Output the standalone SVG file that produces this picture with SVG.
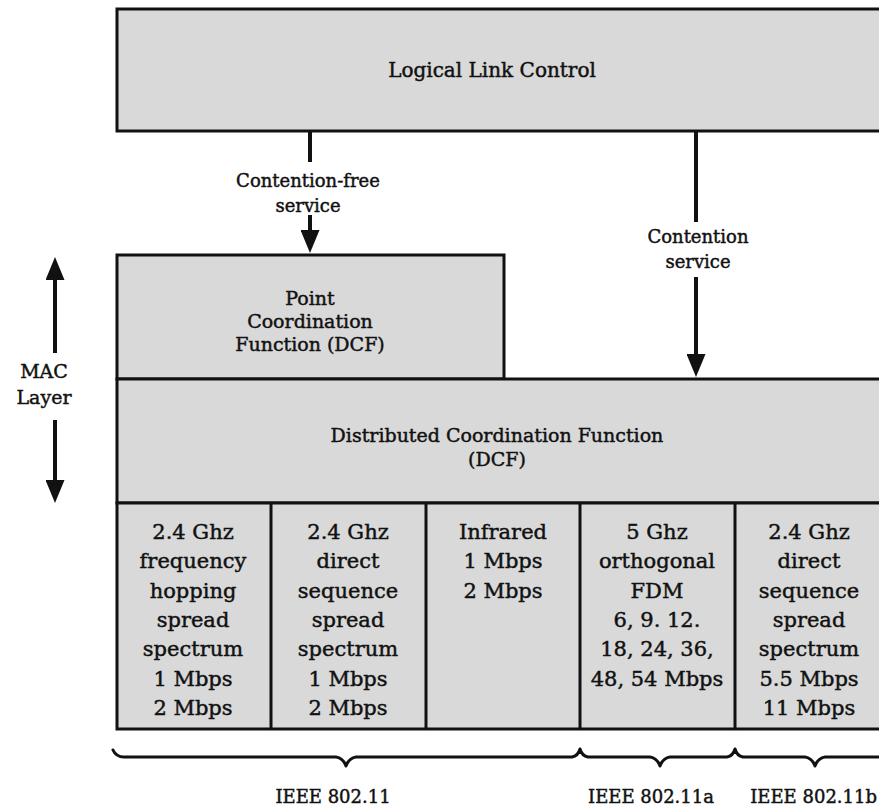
<svg xmlns="http://www.w3.org/2000/svg" width="879" height="807" viewBox="0 0 879 807">
  <style>
    .box { fill: #d9d9d9; stroke: #111; stroke-width: 3; }
    .div { stroke: #111; stroke-width: 3; fill: none; }
    .wire { stroke: #111; stroke-width: 4; fill: none; }
    .brace { stroke: #111; stroke-width: 3; fill: none; stroke-linejoin: round; stroke-linecap: round; }
    text { font-family: "DejaVu Serif", "Liberation Serif", serif; fill: #111; stroke: #111; stroke-width: 0.45; text-anchor: middle; }
    .t20 { font-size: 20px; }
    .t19 { font-size: 19px; }
    .t18 { font-size: 18px; }
    .cell { font-size: 21px; }
  </style>
  <defs>
    <!-- filled arrowhead, tip 10px beyond the line end so the shaft stays hidden -->
    <marker id="head" viewBox="0 0 23 19" refX="13" refY="9.5" markerWidth="23" markerHeight="19" markerUnits="userSpaceOnUse" orient="auto-start-reverse">
      <path d="M0,0 L23,9.5 L0,19 Z" fill="#111"/>
    </marker>
  </defs>
  <rect width="879" height="807" fill="#fff"/>

  <g id="llc">
    <rect class="box" x="117" y="9" width="770" height="122"/>
    <text class="t20" x="492" y="77">Logical Link Control</text>
  </g>

  <g id="pcf">
    <rect class="box" x="117" y="255" width="387" height="124"/>
    <text class="t19" x="310" y="305">Point</text>
    <text class="t19" x="310" y="328">Coordination</text>
    <text class="t19" x="310" y="351">Function (DCF)</text>
  </g>

  <g id="dcf">
    <rect class="box" x="117" y="379" width="770" height="124"/>
    <text class="t19" x="497" y="442">Distributed Coordination Function</text>
    <text class="t19" x="497" y="466">(DCF)</text>
  </g>

  <g id="phy">
    <rect class="box" x="117" y="503" width="770" height="226"/>
    <line class="div" x1="271" y1="503" x2="271" y2="729"/>
    <line class="div" x1="426" y1="503" x2="426" y2="729"/>
    <line class="div" x1="580" y1="503" x2="580" y2="729"/>
    <line class="div" x1="735" y1="503" x2="735" y2="729"/>
  </g>

  <g id="fhss" class="cell">
    <text x="193" y="539">2.4 Ghz</text>
    <text x="193" y="568">frequency</text>
    <text x="193" y="598">hopping</text>
    <text x="193" y="627">spread</text>
    <text x="193" y="656">spectrum</text>
    <text x="193" y="686">1 Mbps</text>
    <text x="193" y="715">2 Mbps</text>
  </g>

  <g id="dsss" class="cell">
    <text x="348" y="539">2.4 Ghz</text>
    <text x="348" y="568">direct</text>
    <text x="348" y="598">sequence</text>
    <text x="348" y="627">spread</text>
    <text x="348" y="656">spectrum</text>
    <text x="348" y="686">1 Mbps</text>
    <text x="348" y="715">2 Mbps</text>
  </g>

  <g id="infrared" class="cell">
    <text x="503" y="539">Infrared</text>
    <text x="503" y="568">1 Mbps</text>
    <text x="503" y="598">2 Mbps</text>
  </g>

  <g id="ofdm" class="cell">
    <text x="657" y="539">5 Ghz</text>
    <text x="657" y="568">orthogonal</text>
    <text x="657" y="598">FDM</text>
    <text x="657" y="627">6, 9. 12.</text>
    <text x="657" y="656">18, 24, 36,</text>
    <text x="657" y="686">48, 54 Mbps</text>
  </g>

  <g id="hrdsss" class="cell">
    <text x="809" y="539">2.4 Ghz</text>
    <text x="809" y="568">direct</text>
    <text x="809" y="598">sequence</text>
    <text x="809" y="627">spread</text>
    <text x="809" y="656">spectrum</text>
    <text x="809" y="686">5.5 Mbps</text>
    <text x="809" y="715">11 Mbps</text>
  </g>

  <g id="connectors">
    <!-- LLC to PCF: contention-free service -->
    <line class="wire" x1="310" y1="131" x2="310" y2="162"/>
    <line class="wire" x1="310" y1="215" x2="310" y2="243" marker-end="url(#head)"/>
    <!-- LLC to DCF: contention service -->
    <line class="wire" x1="696" y1="131" x2="696" y2="222"/>
    <line class="wire" x1="696" y1="277" x2="696" y2="367" marker-end="url(#head)"/>
    <!-- MAC layer extent -->
    <line class="wire" x1="55" y1="353" x2="55" y2="267" marker-end="url(#head)"/>
    <line class="wire" x1="55" y1="420" x2="55" y2="493" marker-end="url(#head)"/>
  </g>

  <g id="labels">
    <text class="t18" x="308" y="187">Contention-free</text>
    <text class="t18" x="308" y="212">service</text>
    <text class="t18" x="698" y="243">Contention</text>
    <text class="t18" x="698" y="268">service</text>
    <text class="t19" x="44" y="378">MAC</text>
    <text class="t19" x="44" y="404">Layer</text>
  </g>

  <g id="braces">
    <path class="brace" d="M113,750 Q116,757 124,757 L336,757 Q343,758 346,766 Q349,758 356,757 L572,757 Q578,756 580,749 Q582,756 588,757 L650,757 Q657,758 660,766 Q663,758 670,757 L727,757 Q733,756 735,749 Q737,756 743,757 L805,757 Q812,758 815,766 Q818,758 825,757 L879,757"/>
    <text class="t18" x="333" y="803">IEEE 802.11</text>
    <text class="t18" x="651" y="803">IEEE 802.11a</text>
    <text class="t18" x="877" y="803" style="text-anchor:end">IEEE 802.11b</text>
  </g>
</svg>
